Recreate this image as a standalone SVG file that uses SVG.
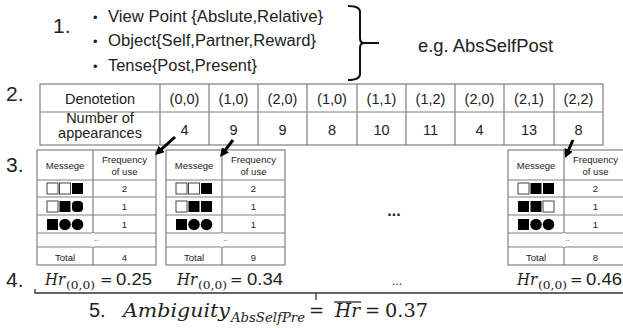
<svg xmlns="http://www.w3.org/2000/svg" width="623" height="328" viewBox="0 0 623 328">
<style>
.t{font-family:"Liberation Sans",Arial,sans-serif;fill:#222}
.c{text-anchor:middle}
.m{font-family:"DejaVu Serif","Liberation Serif",serif;font-style:italic;fill:#222}
.r{font-family:"DejaVu Serif","Liberation Serif",serif;fill:#222}
.g{fill:none;stroke:#808080;stroke-width:1.2}
.sm{font-size:9.5px}
.hd{font-size:14.5px}
.sq{fill:#fff;stroke:#444;stroke-width:1}
.fs{fill:#000}
.ar{stroke:#000;stroke-width:3;fill:none}
</style>
<defs>
<marker id="ah" viewBox="0 0 10 10" refX="4" refY="5" markerWidth="3" markerHeight="3" orient="auto" markerUnits="strokeWidth">
<path d="M0,0 L10,5 L0,10 z" fill="#000"/>
</marker>
<g id="tbl">
<rect x="0" y="0" width="119" height="115" class="g"/>
<line x1="56" y1="0" x2="56" y2="115" class="g"/>
<line x1="0" y1="30" x2="119" y2="30" class="g"/>
<line x1="0" y1="47" x2="119" y2="47" class="g"/>
<line x1="0" y1="65" x2="119" y2="65" class="g"/>
<line x1="0" y1="83" x2="119" y2="83" class="g"/>
<line x1="0" y1="97" x2="119" y2="97" class="g"/>
<line x1="56" y1="83" x2="56" y2="97" stroke="#fff" stroke-width="2"/>
<text x="28" y="19" class="t c sm">Messege</text>
<text x="87.5" y="13" class="t c sm">Frequency</text>
<text x="87.5" y="25" class="t c sm">of use</text>
<text x="87.5" y="42" class="t c sm">2</text>
<text x="87.5" y="60" class="t c sm">1</text>
<text x="87.5" y="78" class="t c sm">1</text>
<text x="59.5" y="91" class="t c" font-size="7">..</text>
<text x="28" y="111" class="t c sm">Total</text>
</g>
</defs>

<!-- Step 1 -->
<g id="step1">
<text x="53" y="33" class="t" font-size="21">1.</text>
<text x="93" y="22" class="t" font-size="13">•</text>
<text x="108" y="22" class="t" font-size="16" textLength="215" lengthAdjust="spacingAndGlyphs">View Point {Abslute,Relative}</text>
<text x="93" y="46" class="t" font-size="13">•</text>
<text x="108" y="46" class="t" font-size="16" textLength="208" lengthAdjust="spacingAndGlyphs">Object{Self,Partner,Reward}</text>
<text x="93" y="71" class="t" font-size="13">•</text>
<text x="108" y="71" class="t" font-size="16" textLength="149" lengthAdjust="spacingAndGlyphs">Tense{Post,Present}</text>
<path d="M348,6 Q360,6 360,12 L360,38 Q360,43 364,43 Q360,43 360,48 L360,74 Q360,80 348,80" fill="none" stroke="#111" stroke-width="2"/>
<line x1="364" y1="43" x2="379" y2="43" stroke="#111" stroke-width="2"/>
<text x="418" y="52" class="t" font-size="18" textLength="135" lengthAdjust="spacingAndGlyphs">e.g. AbsSelfPost</text>
</g>

<!-- Step 2 -->
<g id="step2">
<text x="6" y="101" class="t" font-size="21">2.</text>
<rect x="40" y="84" width="563" height="61" class="g"/>
<line x1="40" y1="112" x2="603" y2="112" class="g"/>
<g class="g">
<line x1="160" y1="84" x2="160" y2="145"/>
<line x1="209" y1="84" x2="209" y2="145"/>
<line x1="258" y1="84" x2="258" y2="145"/>
<line x1="307" y1="84" x2="307" y2="145"/>
<line x1="357" y1="84" x2="357" y2="145"/>
<line x1="406" y1="84" x2="406" y2="145"/>
<line x1="455" y1="84" x2="455" y2="145"/>
<line x1="504" y1="84" x2="504" y2="145"/>
<line x1="554" y1="84" x2="554" y2="145"/>
</g>
<text x="100" y="104" class="t c hd">Denotetion</text>
<text x="100" y="123" class="t c hd">Number of</text>
<text x="100" y="138" class="t c hd">appearances</text>
<g class="t c hd">
<text x="184.5" y="104">(0,0)</text>
<text x="233.5" y="104">(1,0)</text>
<text x="282.5" y="104">(2,0)</text>
<text x="332" y="104">(1,0)</text>
<text x="381.5" y="104">(1,1)</text>
<text x="430.5" y="104">(1,2)</text>
<text x="479.5" y="104">(2,0)</text>
<text x="529" y="104">(2,1)</text>
<text x="578.5" y="104">(2,2)</text>
<text x="184.5" y="135">4</text>
<text x="233.5" y="135">9</text>
<text x="282.5" y="135">9</text>
<text x="332" y="135">8</text>
<text x="381.5" y="135">10</text>
<text x="430.5" y="135">11</text>
<text x="479.5" y="135">4</text>
<text x="529" y="135">13</text>
<text x="578.5" y="135">8</text>
</g>
</g>

<!-- Step 3 -->
<text x="6" y="172" class="t" font-size="21">3.</text>
<g id="table1" transform="translate(37,150)">
<use href="#tbl"/>
<text x="87.5" y="111" class="t c sm">4</text>
<rect x="10" y="33" width="11" height="11" class="sq"/>
<rect x="22.5" y="33" width="11" height="11" class="sq"/>
<rect x="35" y="33" width="11" height="11" class="fs"/>
<rect x="10" y="51" width="11" height="11" class="sq"/>
<rect x="22.5" y="51" width="11" height="11" class="fs"/>
<rect x="35" y="51" width="11" height="11" rx="4" class="fs"/>
<rect x="10" y="69" width="11" height="11" class="fs"/>
<circle cx="28" cy="74.5" r="5.8" class="fs"/>
<circle cx="40.5" cy="74.5" r="5.8" class="fs"/>
</g>
<g id="table2" transform="translate(166,150)">
<use href="#tbl"/>
<text x="87.5" y="111" class="t c sm">9</text>
<rect x="10" y="33" width="11" height="11" class="sq"/>
<rect x="22.5" y="33" width="11" height="11" class="sq"/>
<rect x="35" y="33" width="11" height="11" class="fs"/>
<rect x="10" y="51" width="11" height="11" class="sq"/>
<rect x="22.5" y="51" width="11" height="11" class="fs"/>
<rect x="35" y="51" width="11" height="11" class="fs"/>
<rect x="10" y="69" width="11" height="11" class="fs"/>
<circle cx="28" cy="74.5" r="5.8" class="fs"/>
<circle cx="40.5" cy="74.5" r="5.8" class="fs"/>
</g>
<g id="table3" transform="translate(508,150)">
<use href="#tbl"/>
<text x="87.5" y="111" class="t c sm">8</text>
<rect x="10" y="33" width="11" height="11" class="sq"/>
<rect x="22.5" y="33" width="11" height="11" class="fs"/>
<rect x="35" y="33" width="11" height="11" class="fs"/>
<rect x="10" y="51" width="11" height="11" class="fs"/>
<rect x="22.5" y="51" width="11" height="11" class="fs"/>
<rect x="35" y="51" width="11" height="11" class="sq"/>
<rect x="10" y="69" width="11" height="11" class="fs"/>
<circle cx="28" cy="74.5" r="5.8" class="fs"/>
<circle cx="40.5" cy="74.5" r="5.8" class="fs"/>
</g>
<text x="394" y="216" class="t c" font-size="16" font-weight="bold">...</text>

<g id="connectors">
<line x1="175" y1="137" x2="159" y2="151.4" class="ar" marker-end="url(#ah)"/>
<line x1="233" y1="140" x2="223.3" y2="152.7" class="ar" marker-end="url(#ah)"/>
<line x1="573" y1="140" x2="567.2" y2="153.1" class="ar" marker-end="url(#ah)"/>
</g>

<!-- Step 4 -->
<g id="step4">
<text x="6" y="287" class="t" font-size="21">4.</text>
<text x="45" y="285" class="m" font-size="16" textLength="20" lengthAdjust="spacingAndGlyphs">Hr</text>
<text x="66" y="289" class="r" font-size="11" textLength="29" lengthAdjust="spacingAndGlyphs">(0,0)</text>
<text x="100" y="285" class="r" font-size="15">=</text>
<text x="116" y="285" class="t" font-size="17" textLength="36" lengthAdjust="spacingAndGlyphs">0.25</text>
<text x="177" y="285" class="m" font-size="16" textLength="20" lengthAdjust="spacingAndGlyphs">Hr</text>
<text x="198" y="289" class="r" font-size="11" textLength="29" lengthAdjust="spacingAndGlyphs">(0,0)</text>
<text x="230" y="285" class="r" font-size="15">=</text>
<text x="247" y="285" class="t" font-size="17" textLength="36" lengthAdjust="spacingAndGlyphs">0.34</text>
<text x="397" y="285" class="t c" font-size="12">...</text>
<text x="517" y="285" class="m" font-size="16" textLength="20" lengthAdjust="spacingAndGlyphs">Hr</text>
<text x="538" y="289" class="r" font-size="11" textLength="29" lengthAdjust="spacingAndGlyphs">(0,0)</text>
<text x="570" y="285" class="r" font-size="15">=</text>
<text x="586" y="285" class="t" font-size="17" textLength="36" lengthAdjust="spacingAndGlyphs">0.46</text>
<path d="M35,289 L35,293 L623,293 M316,293 L316,300" fill="none" stroke="#333" stroke-width="1.3"/>
</g>

<!-- Step 5 -->
<g id="step5">
<text x="89" y="317" class="t" font-size="20">5.</text>
<text x="123" y="317" class="m" font-size="19" textLength="107" lengthAdjust="spacingAndGlyphs">Ambiguity</text>
<text x="231" y="322" class="m" font-size="12" textLength="74" lengthAdjust="spacingAndGlyphs">AbsSelfPre</text>
<text x="309" y="317" class="r" font-size="18">=</text>
<text x="335" y="317" class="m" font-size="18" textLength="25" lengthAdjust="spacingAndGlyphs">Hr</text>
<line x1="334" y1="302" x2="361" y2="302" stroke="#222" stroke-width="1.3"/>
<text x="365" y="317" class="r" font-size="18">=</text>
<text x="385" y="317" class="r" font-size="18" textLength="43" lengthAdjust="spacingAndGlyphs">0.37</text>
</g>
</svg>
